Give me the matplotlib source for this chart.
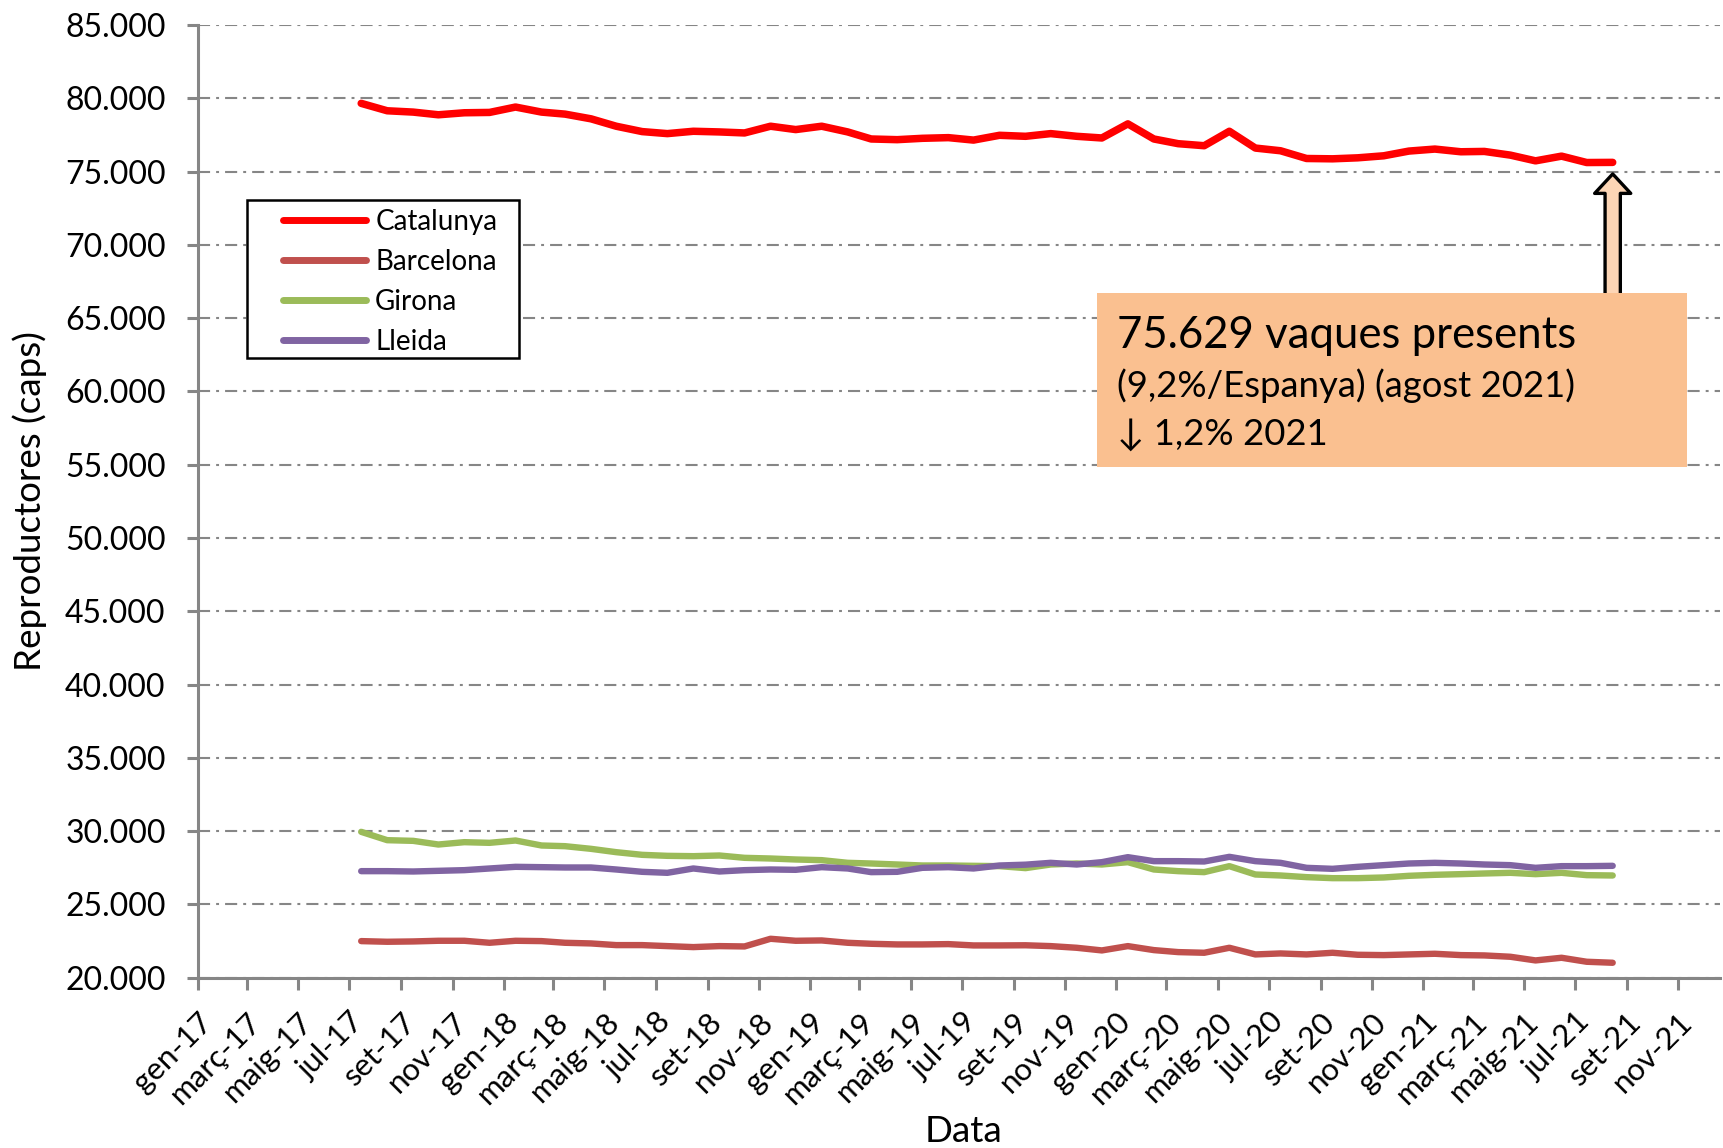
import matplotlib
matplotlib.use("Agg")
import matplotlib.pyplot as plt
import matplotlib.transforms as mtransforms
from matplotlib.patches import Rectangle, FancyArrowPatch
import pandas as pd
import datetime as dt

# ---------------- data ----------------
start_month = "2017-07"
n_months = 50
dates = pd.date_range(start_month + "-01", periods=n_months, freq="MS") + pd.Timedelta(days=14)

catalunya = [79656, 79150, 79060, 78876, 79014, 79037, 79404, 79060, 78922, 78600,
             78096, 77729, 77592, 77752, 77706, 77637, 78096, 77867, 78096, 77706,
             77225, 77179, 77271, 77317, 77150, 77477, 77408, 77592, 77408, 77294,
             78257, 77225, 76904, 76766, 77752, 76606, 76422, 75894, 75872, 75940,
             76078, 76400, 76537, 76353, 76376, 76124, 75734, 76055, 75619, 75629]
barcelona = [22500, 22455, 22477, 22523, 22523, 22386, 22523, 22500, 22386, 22341,
             22227, 22227, 22159, 22091, 22159, 22136, 22659, 22523, 22545, 22386,
             22318, 22273, 22273, 22295, 22205, 22205, 22216, 22159, 22045, 21864,
             22159, 21886, 21750, 21705, 22045, 21591, 21659, 21591, 21705, 21568,
             21545, 21591, 21636, 21545, 21523, 21432, 21182, 21364, 21091, 21023]
girona = [29955, 29386, 29340, 29090, 29250, 29205, 29364, 29023, 28977, 28795,
          28568, 28386, 28318, 28295, 28341, 28182, 28136, 28068, 28023, 27841,
          27795, 27727, 27659, 27659, 27636, 27614, 27480, 27727, 27795, 27727,
          27886, 27386, 27273, 27205, 27614, 27045, 26977, 26864, 26795, 26795,
          26841, 26955, 27023, 27068, 27114, 27159, 27068, 27159, 27000, 26977]
lleida = [27273, 27273, 27250, 27295, 27341, 27455, 27568, 27545, 27523, 27523,
          27386, 27227, 27159, 27455, 27250, 27341, 27386, 27364, 27545, 27455,
          27205, 27227, 27500, 27545, 27455, 27659, 27715, 27841, 27727, 27886,
          28227, 27955, 27955, 27932, 28250, 27955, 27841, 27500, 27432, 27568,
          27682, 27795, 27841, 27795, 27727, 27682, 27500, 27614, 27614, 27636]

series_names = ["Catalunya", "Barcelona", "Girona", "Lleida"]
series_colors = ["#FF0000", "#C0504D", "#9BBB59", "#8064A2"]

tick_dates = pd.date_range("2017-01-01", "2021-11-01", freq="2MS")
tick_labels = ["gen-17", "març-17", "maig-17", "jul-17", "set-17", "nov-17",
               "gen-18", "març-18", "maig-18", "jul-18", "set-18", "nov-18",
               "gen-19", "març-19", "maig-19", "jul-19", "set-19", "nov-19",
               "gen-20", "març-20", "maig-20", "jul-20", "set-20", "nov-20",
               "gen-21", "març-21", "maig-21", "jul-21", "set-21", "nov-21"]
y_ticks = list(range(20000, 85001, 5000))

annot_line1 = "75.629 vaques presents"
annot_line2 = "(9,2%/Espanya) (agost 2021)"
annot_line3 = "\u2193 1,2% 2021"

# ---------------- style ----------------
FONT = ["Lato", "DejaVu Sans"]
plt.rcParams["font.family"] = FONT
GRAY = "#868686"

fig = plt.figure(figsize=(17.23, 11.48), dpi=100)
ax = fig.add_axes([0.1147, 0.1483, 0.8836, 0.8299])

data = [catalunya, barcelona, girona, lleida]
for name, col, vals in zip(series_names, series_colors, data):
    lw = 5.4 if name == "Catalunya" else 4.6
    ax.plot(dates, vals, color=col, lw=lw, label=name,
            solid_joinstyle="round", solid_capstyle="round", zorder=3)

ax.set_ylim(20000, 85000)
ax.set_xlim(dt.datetime(2017, 1, 1), dt.datetime(2021, 12, 21))
ax.set_yticks(y_ticks)
ax.set_yticklabels([f"{v:,.0f}".replace(",", ".") for v in y_ticks], fontsize=23)
ax.set_xticks(tick_dates)
ax.set_xticklabels(tick_labels, fontsize=22.5, rotation=45, ha="right", va="top",
                   rotation_mode="anchor")
offset = mtransforms.ScaledTranslation(0.15, 0.0, fig.dpi_scale_trans)
for lab in ax.get_xticklabels():
    lab.set_transform(lab.get_transform() + offset)

ax.tick_params(axis="y", length=8, width=2.2, color=GRAY, pad=15)
ax.tick_params(axis="x", length=8.5, width=2.2, color=GRAY, pad=13)

for s in ["top", "right"]:
    ax.spines[s].set_visible(False)
for s in ["left", "bottom"]:
    ax.spines[s].set_color(GRAY)
    ax.spines[s].set_linewidth(2.2)

ax.yaxis.grid(True, color=GRAY, lw=1.5, linestyle=(0, (5.8, 2.9, 1.4, 2.9)), zorder=0)
ax.set_axisbelow(True)

# legend (frame drawn separately to match the reference's padding)
ax.add_patch(Rectangle((0.0324, 0.6505), 0.1787, 0.1658, transform=ax.transAxes,
                       facecolor="white", edgecolor="black", lw=1.8, zorder=6))
leg = ax.legend(loc="upper left", bbox_to_anchor=(0.0562, 0.8067), borderaxespad=0,
                frameon=False, fontsize=20, handlelength=2.98, handletextpad=0.33,
                labelspacing=0.5, borderpad=0)
leg.set_zorder(7)
for h in leg.get_lines():
    h.set_linewidth(5.0)
    h.set_solid_capstyle("round")

fig.text(0.0174, 0.5632, "Reproductores (caps)", rotation=90, fontsize=26.5,
         ha="center", va="center")
fig.text(0.559, 0.0145, "Data", fontsize=26.5, ha="center", va="center")

# annotation box + arrow
arrow = FancyArrowPatch((dates[-1], 66000), (dates[-1], 74840),
                        arrowstyle="simple,head_length=14,head_width=26,tail_width=11",
                        mutation_scale=1, facecolor="#FCD5B5", edgecolor="black",
                        lw=2.4, shrinkA=0, shrinkB=0, zorder=4)
ax.add_patch(arrow)
ax.add_patch(Rectangle((0.5908, 0.5361), 0.3876, 0.1826, transform=ax.transAxes,
                       facecolor="#FAC090", edgecolor="none", zorder=5, clip_on=False))
ax.text(0.6039, 0.661, annot_line1, transform=ax.transAxes, fontsize=31.5,
        ha="left", va="baseline", zorder=6)
ax.text(0.6039, 0.6095, annot_line2, transform=ax.transAxes, fontsize=26.3,
        ha="left", va="baseline", zorder=6)
ax.text(0.6039, 0.5591, annot_line3, transform=ax.transAxes, fontsize=26.3,
        ha="left", va="baseline", zorder=6)

fig.savefig("out.png", dpi=100)
